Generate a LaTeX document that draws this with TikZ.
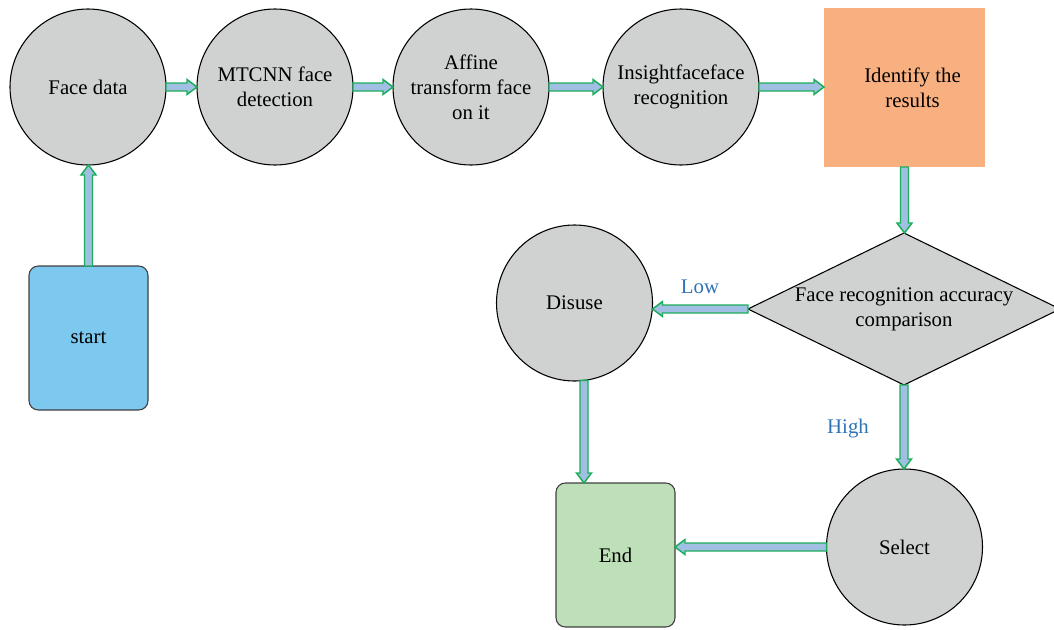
\documentclass[tikz,border=0pt]{standalone}
\usepackage{fontspec}
\setmainfont{Liberation Serif}
\usetikzlibrary{shapes.geometric,calc}
\definecolor{cgray}{RGB}{208,209,209}
\definecolor{corange}{RGB}{249,176,129}
\definecolor{cblue}{RGB}{124,200,239}
\definecolor{cgreen}{RGB}{190,224,184}
\definecolor{afill}{RGB}{161,191,227}
\definecolor{aline}{RGB}{26,174,90}
\definecolor{lblue}{RGB}{46,116,181}
\tikzset{
  every node/.style={font=\fontsize{15.6}{18.75}\selectfont, align=center, outer sep=0pt},
  circ/.style={circle, draw=black, line width=0.8pt, fill=cgray, minimum size=117pt, inner sep=0pt},
  orbox/.style={rectangle, fill=corange, minimum width=120.75pt, minimum height=119.25pt, inner sep=0pt},
  rbox/.style={rectangle, rounded corners=7pt, draw=black!75, line width=0.8pt, minimum width=89.25pt, minimum height=108pt, inner sep=0pt},
  dia/.style={diamond, draw=black, line width=0.8pt, fill=cgray, minimum width=234pt, minimum height=114pt, inner sep=0pt, shape aspect=2.05},
  blk/.style={fill=afill, draw=aline, line width=1.1pt, line join=miter},
  lbl/.style={text=lblue}
}
\newcommand\harrow[2]{%
  \path[blk] let \p1=(#1), \p2=(#2), \n1={ifthenelse(\x2>\x1,1,-1)} in
    (\x1,\y1+3pt) -- ({\x2-(\n1)*7.5pt},\y1+3pt) -- ({\x2-(\n1)*7.5pt},\y1+5.6pt) -- (\x2,\y1)
    -- ({\x2-(\n1)*7.5pt},\y1-5.6pt) -- ({\x2-(\n1)*7.5pt},\y1-3pt) -- (\x1,\y1-3pt) -- cycle;}
\newcommand\varrow[2]{%
  \path[blk] let \p1=(#1), \p2=(#2), \n1={ifthenelse(\y2>\y1,1,-1)} in
    (\x1+3pt,\y1) -- (\x1+3pt,{\y2-(\n1)*7.5pt}) -- (\x1+5.6pt,{\y2-(\n1)*7.5pt}) -- (\x1,\y2)
    -- (\x1-5.6pt,{\y2-(\n1)*7.5pt}) -- (\x1-3pt,{\y2-(\n1)*7.5pt}) -- (\x1-3pt,\y1) -- cycle;}
\begin{document}
\begin{tikzpicture}[x=0.75pt,y=-0.75pt]
\useasboundingbox (0,0) rectangle (1054,629);
\node[circ] (face) at (88,87) {Face data};
\node[circ] (mtcnn) at (275,87) {MTCNN face\\detection};
\node[circ] (affine) at (471,87) {Affine\\transform face\\on it};
\node[circ] (insight) at (681,87) {Insightfaceface\\recognition};
\node[orbox] (ident) at (904.5,87.5) {\hspace*{12pt}Identify the\\\hspace*{12pt}results};
\node[rbox, fill=cblue] (start) at (88.5,338) {start};
\node[dia, label={[align=center]center:Face recognition accuracy\\comparison}] (cmp) at (904,309) {};
\node[circ] (disuse) at (574.5,303) {Disuse};
\node[circ] (select) at (904.5,547) {Select};
\node[rbox, fill=cgreen] (end) at (615.5,555) {End};

\harrow{face.east}{mtcnn.west}
\harrow{mtcnn.east}{affine.west}
\harrow{affine.east}{insight.west}
\harrow{insight.east}{ident.west}
\varrow{start.north}{face.south}
\varrow{ident.south}{cmp.north}
\harrow{cmp.west}{disuse.east}
\varrow{cmp.south}{select.north}
\varrow{disuse.-83}{end.north}
\harrow{select.west}{end.east}

\node[lbl] (low) at (700,287) {Low};
\node[lbl] (high) at (848,429) {High};
\end{tikzpicture}
\end{document}
